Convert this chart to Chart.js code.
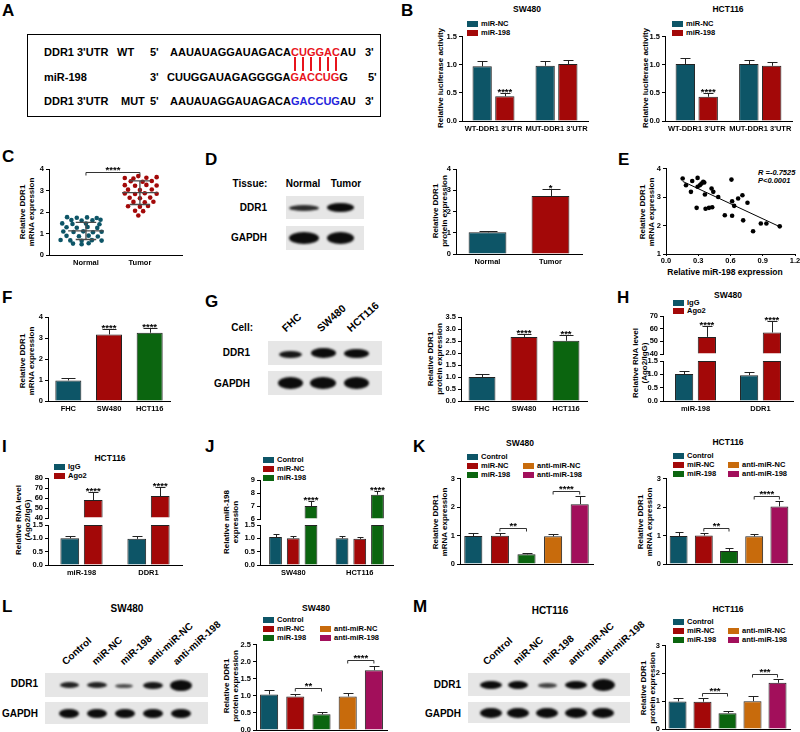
<!DOCTYPE html>
<html>
<head>
<meta charset="utf-8">
<title>DDR1 / miR-198</title>
<script src="https://cdn.jsdelivr.net/npm/chart.js@4.4.1/dist/chart.umd.min.js"></script>
<style>
html, body { margin: 0; padding: 0; background: #fff; }
#fig { position: relative; width: 800px; height: 732px; overflow: hidden; font-family: "Liberation Sans", Arial, sans-serif; font-weight: bold; color: #000; }
#fig canvas { position: absolute; }
#fig div { position: absolute; white-space: nowrap; line-height: 1; }
#fig .c { transform: translate(-50%, -50%); text-align: center; }
#fig .l { transform: translate(0, -50%); }
#fig .r { transform: translate(-100%, -50%); }
#fig .v { transform: translate(-50%, -50%) rotate(-90deg); text-align: center; line-height: 1.1; }
#fig .blot { background: #e6e6e6; overflow: hidden; }
#fig .band { border-radius: 50%; filter: blur(1.3px); }
#fig .lane { transform-origin: 0 100%; transform: rotate(-42deg); }
</style>
</head>
<body>
<div id="fig"></div>
<script>
'use strict';

// ---------- data ----------
var luciCats = ["WT-DDR1 3'UTR", "MUT-DDR1 3'UTR"];
var luciSwNc = [0.97, 0.98];
var luciSwNcErr = [0.09, 0.08];
var luciSw198 = [0.44, 1.01];
var luciSw198Err = [0.06, 0.08];
var luciHctNc = [1.01, 1.01];
var luciHctNcErr = [0.10, 0.07];
var luciHct198 = [0.43, 0.98];
var luciHct198Err = [0.06, 0.06];
var luciStars = ['****', ''];

var tissueCats = ['Normal', 'Tumor'];
var normalMrna = [1.76, 1.73, 1.75, 1.72, 1.63, 1.60, 1.61, 1.64, 1.47, 1.44, 1.46, 1.43,
  1.29, 1.27, 1.30, 1.26, 1.09, 1.07, 1.10, 1.06, 1.08, 0.89, 0.87, 0.90, 0.86,
  0.70, 0.68, 0.66, 0.69, 0.67, 0.53, 0.50, 0.55];
var normalSpread = [-0.35, -0.17, 0.02, 0.20, -0.27, -0.08, 0.12, 0.27, -0.44, -0.25, 0.00, 0.25,
  -0.36, -0.17, 0.03, 0.21, -0.42, -0.23, -0.05, 0.13, 0.29, -0.36, -0.13, 0.05, 0.22,
  -0.47, -0.29, -0.08, 0.11, 0.29, -0.24, -0.08, 0.05];
var tumorMrna = [3.67, 3.58, 3.56, 3.59, 3.62, 3.43, 3.41, 3.44, 3.25, 3.22, 3.26, 3.23,
  3.04, 3.02, 3.05, 2.86, 2.84, 2.87, 2.85, 2.66, 2.64, 2.67, 2.47, 2.45, 2.48,
  2.27, 2.25, 2.28, 2.06, 2.04, 1.84];
var tumorSpread = [-0.03, -0.28, -0.12, 0.12, 0.31, -0.17, 0.05, 0.22, -0.28, -0.09, 0.12, 0.31,
  -0.22, 0.00, 0.22, -0.28, -0.09, 0.09, 0.31, -0.19, 0.00, 0.19, -0.12, 0.09, 0.25,
  -0.22, 0.00, 0.15, -0.09, 0.06, -0.03];
var tissueMean = [1.12, 2.90];
var tissueSd = [0.40, 0.55];
var tissueSig = [1, 2, 3.86, '****'];

var tissueProt = [1.02, 2.73];
var tissueProtErr = [0.07, 0.32];
var tissueProtStars = ['', '*'];

var corrMiR = [0.155, 0.186, 0.232, 0.244, 0.285, 0.294, 0.294, 0.315, 0.33, 0.346, 0.356, 0.362,
  0.368, 0.40, 0.424, 0.43, 0.44, 0.486, 0.547, 0.609, 0.615, 0.615, 0.634, 0.671,
  0.711, 0.718, 0.758, 0.81, 0.882, 0.934, 1.058];
var corrDDR1 = [3.65, 3.41, 3.18, 3.56, 2.62, 3.67, 3.36, 3.41, 3.47, 3.53, 3.51, 3.09,
  2.59, 2.62, 3.30, 2.64, 3.18, 3.00, 2.36, 3.61, 2.85, 2.34, 2.69, 2.95,
  3.06, 2.18, 2.80, 1.80, 2.07, 2.07, 1.97];
var corrSlope = -1.76;
var corrIntercept = 3.82;

var cellCats = ['FHC', 'SW480', 'HCT116'];
var cellMrna = [0.98, 3.17, 3.25];
var cellMrnaErr = [0.10, 0.24, 0.25];
var cellMrnaStars = ['', '****', '****'];
var cellProt = [1.00, 2.67, 2.51];
var cellProtErr = [0.14, 0.13, 0.24];
var cellProtStars = ['', '****', '***'];

var ripCats = ['miR-198', 'DDR1'];
var ripSwIgg = [1.01, 0.97];
var ripSwIggErr = [0.10, 0.11];
var ripSwAgo = [53.5, 57.0];
var ripSwAgoErr = [8.3, 9.3];
var ripHctIgg = [1.00, 0.98];
var ripHctIggErr = [0.07, 0.09];
var ripHctAgo = [58.0, 62.0];
var ripHctAgoErr = [8.0, 9.5];
var ripStars = ['****', '****'];

var mimicCats = ['SW480', 'HCT116'];
var mimicCtrl = [1.05, 1.00];
var mimicCtrlErr = [0.11, 0.09];
var mimicNc = [1.00, 0.98];
var mimicNcErr = [0.07, 0.07];
var mimic198 = [7.00, 7.87];
var mimic198Err = [0.38, 0.30];
var mimicStars = ['****', '****'];

var groupNames = ['Control', 'miR-NC', 'miR-198', 'anti-miR-NC', 'anti-miR-198'];
var kSwMrna = [0.98, 0.99, 0.34, 0.97, 2.10];
var kSwMrnaErr = [0.10, 0.10, 0.05, 0.10, 0.28];
var kSwSig = [[1, 2, 1.25, '**'], [3, 4, 2.55, '****']];
var kHctMrna = [0.98, 1.00, 0.46, 0.97, 2.02];
var kHctMrnaErr = [0.13, 0.10, 0.10, 0.10, 0.18];
var kHctSig = [[1, 2, 1.26, '**'], [3, 4, 2.38, '****']];
var lSwProt = [1.04, 0.98, 0.46, 0.98, 1.75];
var lSwProtErr = [0.14, 0.08, 0.06, 0.11, 0.12];
var lSwSig = [[1, 2, 1.24, '**'], [3, 4, 2.04, '****']];
var mHctProt = [0.99, 0.98, 0.57, 1.00, 1.66];
var mHctProtErr = [0.14, 0.12, 0.08, 0.17, 0.14];
var mHctSig = [[1, 2, 1.28, '***'], [3, 4, 1.97, '***']];

// ---------- styles ----------
var TEAL = '#0d5567';
var RED = '#a30808';
var GREEN = '#0b650f';
var ORANGE = '#c86b0c';
var MAGENTA = '#a20f5b';
var INK = '#222';
var groupColors = [TEAL, RED, GREEN, ORANGE, MAGENTA];
var YW = 24;
var PR = 4;
var PB = 6;

var fig = document.getElementById('fig');

Chart.defaults.font.family = '"Liberation Sans", Arial, sans-serif';
Chart.defaults.font.weight = 'bold';
Chart.defaults.font.size = 7.5;
Chart.defaults.color = '#000';

// error bars, stars, brackets and mean/SD lines, placed through the chart scales
var marks = {
  id: 'marks',
  afterDatasetsDraw: function (chart) {
    var ctx = chart.ctx;
    var xs = chart.scales.x;
    var ys0 = chart.scales.y;
    ctx.save();
    ctx.font = 'bold 9.5px "Liberation Sans", Arial, sans-serif';
    ctx.textAlign = 'center';
    ctx.textBaseline = 'alphabetic';
    ctx.fillStyle = '#000';
    ctx.lineWidth = 1;
    chart.data.datasets.forEach(function (ds, i) {
      if (!ds.errors) return;
      var meta = chart.getDatasetMeta(i);
      var ys = chart.scales[meta.yAxisID];
      meta.data.forEach(function (bar, j) {
        var x = Math.round(bar.x) + 0.5;
        var top = Math.round(ys.getPixelForValue(ds.data[j] + ds.errors[j])) + 0.5;
        var half = Math.round(bar.width / 4);
        ctx.strokeStyle = INK;
        ctx.beginPath();
        ctx.moveTo(x, bar.y);
        ctx.lineTo(x, top);
        ctx.moveTo(x - half, top);
        ctx.lineTo(x + half, top);
        ctx.stroke();
        if (ds.stars && ds.stars[j]) {
          ctx.fillText(ds.stars[j], bar.x, top + 1);
        }
      });
    });
    (chart.data.brackets || []).forEach(function (b) {
      var x1 = xs.getPixelForValue(b[0]);
      var x2 = xs.getPixelForValue(b[1]);
      var y = Math.round(ys0.getPixelForValue(b[2])) + 0.5;
      ctx.strokeStyle = '#333';
      ctx.beginPath();
      ctx.moveTo(x1, y + 3);
      ctx.lineTo(x1, y);
      ctx.lineTo(x2, y);
      ctx.lineTo(x2, y + 3);
      ctx.stroke();
      ctx.fillText(b[3], (x1 + x2) / 2, y);
    });
    var sm = chart.data.summary;
    if (sm) {
      ctx.strokeStyle = '#4a4a4a';
      ctx.lineWidth = 1.3;
      sm.means.forEach(function (m, k) {
        var cx = k + 1;
        var sd = sm.sds[k];
        ctx.beginPath();
        [[m, 0.33], [m + sd, 0.19], [m - sd, 0.19]].forEach(function (h) {
          var y = ys0.getPixelForValue(h[0]);
          ctx.moveTo(xs.getPixelForValue(cx - h[1]), y);
          ctx.lineTo(xs.getPixelForValue(cx + h[1]), y);
        });
        ctx.moveTo(xs.getPixelForValue(cx), ys0.getPixelForValue(m + sd));
        ctx.lineTo(xs.getPixelForValue(cx), ys0.getPixelForValue(m - sd));
        ctx.stroke();
      });
    }
    ctx.restore();
  }
};
Chart.register(marks);

// ---------- helpers ----------
function put(cls, x, y, html, size, css) {
  var d = document.createElement('div');
  d.className = cls;
  d.style.left = x + 'px';
  d.style.top = y + 'px';
  if (size) d.style.fontSize = size + 'px';
  d.innerHTML = html;
  if (css) Object.assign(d.style, css);
  fig.appendChild(d);
  return d;
}

function key(x, y, color, name) {
  put('', x, y - 3, '', 0, { width: '11px', height: '6px', background: color });
  put('l', x + 14, y, name, 7.5);
}

function groupKey(x1, x2, rows) {
  key(x1, rows[0], groupColors[0], groupNames[0]);
  key(x1, rows[1], groupColors[1], groupNames[1]);
  key(x1, rows[2], groupColors[2], groupNames[2]);
  key(x2, rows[1], groupColors[3], groupNames[3]);
  key(x2, rows[2], groupColors[4], groupNames[4]);
}

function blot(x, y, w, h, bands) {
  var b = put('blot', x, y, '', 0, { width: w + 'px', height: h + 'px' });
  bands.forEach(function (bd) {
    var e = document.createElement('div');
    e.className = 'band';
    e.style.left = (bd[0] - x - bd[2] / 2) + 'px';
    e.style.top = (bd[1] - y - bd[3] / 2) + 'px';
    e.style.width = bd[2] + 'px';
    e.style.height = bd[3] + 'px';
    e.style.background = 'rgba(12,12,12,' + bd[4] + ')';
    b.appendChild(e);
  });
}

function lane(x, y, s, size) {
  put('lane', x, y - size, s, size);
}

function makeCanvas(ax, top, bot, right, xh, pt, pr) {
  pr = pr || PR;
  var c = document.createElement('canvas');
  var left = ax - YW;
  var t = top - pt;
  c.width = right - left + pr;
  c.height = bot - t + xh + PB;
  c.style.left = left + 'px';
  c.style.top = t + 'px';
  fig.appendChild(c);
  return c.getContext('2d');
}

function yAxis(min, max, step, dec, extra) {
  var s = {
    type: 'linear', position: 'left', min: min, max: max, stacked: false,
    ticks: { stepSize: step, padding: 2, autoSkip: false, callback: function (v) { return v.toFixed(dec); } },
    grid: { drawOnChartArea: false, drawTicks: true, tickLength: 3, color: '#000' },
    border: { color: '#000', width: 1 },
    afterFit: function (sc) { sc.width = YW; }
  };
  return Object.assign(s, extra || {});
}

function xAxis(xh, show) {
  return {
    type: 'category', offset: true,
    grid: { display: false, drawTicks: false, tickLength: 0 },
    border: { color: '#000', width: 1 },
    ticks: { display: show, padding: 3, autoSkip: false, maxRotation: 0 },
    afterFit: function (sc) { sc.height = xh; }
  };
}

function brokenScales(xh, low, high, weights) {
  return {
    x: xAxis(xh, true),
    y: yAxis(low[0], low[1], low[2], low[3], { stack: 'brk', stackWeight: weights[2] }),
    yGap: {
      type: 'linear', position: 'left', stack: 'brk', stackWeight: weights[1], min: 0, max: 1,
      ticks: { display: false }, grid: { display: false }, border: { display: false },
      afterFit: function (sc) { sc.width = YW; }
    },
    yTop: yAxis(high[0], high[1], high[2], high[3], { stack: 'brk', stackWeight: weights[0] })
  };
}

function options(pt, scales, pr) {
  return {
    responsive: false, animation: false, events: [],
    layout: { padding: { top: pt, right: pr || PR, bottom: PB, left: 0 } },
    plugins: { legend: { display: false }, tooltip: { enabled: false } },
    scales: scales
  };
}

function bars(label, data, color, errs, stars, extra) {
  return Object.assign({
    label: label, data: data, backgroundColor: color, borderColor: INK, borderWidth: 1,
    errors: errs, stars: stars
  }, extra || {});
}

// ---------- panel letters ----------
[['A', 2, 10], ['B', 401, 10], ['C', 2, 156], ['D', 205, 159], ['E', 618, 159],
  ['F', 2, 297], ['G', 205, 301], ['H', 617, 297], ['I', 2, 446], ['J', 205, 446],
  ['K', 413, 446], ['L', 2, 606], ['M', 413, 606]].forEach(function (p) {
  put('l', p[1], p[2], p[0], 17);
});

// ---------- A: binding site ----------
put('', 27, 34, '', 0, { width: '352px', height: '81px', border: '1.5px solid #000' });
var SEQ_RED = '#e8141c';
var SEQ_BLUE = '#2424dc';
put('l', 44, 52, "DDR1 3'UTR", 11);
put('l', 117, 52, 'WT', 11);
put('l', 150, 52, "5'", 11);
var row1 = put('l', 170, 52, 'AAUAUAGGAUAGACA' + 'CUGGAC'.split('').map(function (ch) {
  return '<span style="color:' + SEQ_RED + '">' + ch + '</span>';
}).join('') + 'AU', 11);
put('l', 365, 52, "3'", 11);
put('l', 44, 77, 'miR-198', 11);
put('l', 150, 77, "3'", 11);
put('l', 167, 77, 'CUUGGAUAGAGGGGA<span style="color:' + SEQ_RED + '">GACCUG</span>G', 11);
put('l', 368, 77, "5'", 11);
put('l', 44, 101, "DDR1 3'UTR", 11);
put('l', 121, 101, 'MUT', 11);
put('l', 150, 101, "5'", 11);
put('l', 170, 101, 'AAUAUAGGAUAGACA<span style="color:' + SEQ_BLUE + '">GACCUG</span>AU', 11);
put('l', 365, 101, "3'", 11);
var figBox = fig.getBoundingClientRect();
Array.prototype.forEach.call(row1.querySelectorAll('span'), function (sp) {
  var r = sp.getBoundingClientRect();
  put('', Math.round(r.left + r.width / 2 - figBox.left - 1), 57, '', 0,
    { width: '2px', height: '14px', background: SEQ_RED });
});

// ---------- B: luciferase ----------
var luciGroup = { categoryPercentage: 0.72, barPercentage: 0.85 };
put('c', 527, 9, 'SW480', 8.5);
key(467, 23.5, TEAL, 'miR-NC');
key(467, 32.5, RED, 'miR-198');
put('v', 441, 78, 'Relative luciferase activity', 8);
new Chart(makeCanvas(462, 36, 121, 588, 12, 6), {
  type: 'bar',
  data: { labels: luciCats, datasets: [
    bars('miR-NC', luciSwNc, TEAL, luciSwNcErr, null, luciGroup),
    bars('miR-198', luciSw198, RED, luciSw198Err, luciStars, luciGroup)
  ] },
  options: options(6, { x: xAxis(12, true), y: yAxis(0, 1.5, 0.5, 1) })
});

put('c', 728, 9, 'HCT116', 8.5);
key(672, 23.5, TEAL, 'miR-NC');
key(672, 32.5, RED, 'miR-198');
put('v', 646, 78, 'Relative luciferase activity', 8);
new Chart(makeCanvas(665, 36, 121, 792, 12, 6), {
  type: 'bar',
  data: { labels: luciCats, datasets: [
    bars('miR-NC', luciHctNc, TEAL, luciHctNcErr, null, luciGroup),
    bars('miR-198', luciHct198, RED, luciHct198Err, luciStars, luciGroup)
  ] },
  options: options(6, { x: xAxis(12, true), y: yAxis(0, 1.5, 0.5, 1) })
});

// ---------- C: tissue mRNA scatter ----------
put('v', 28, 212, 'Relative DDR1<br>mRNA expression', 8);
new Chart(makeCanvas(49, 169, 255, 182, 12, 16), {
  type: 'scatter',
  data: {
    datasets: [
      { data: normalMrna.map(function (v, k) { return { x: 1 + normalSpread[k], y: v }; }),
        backgroundColor: TEAL, borderWidth: 0, pointRadius: 2.3 },
      { data: tumorMrna.map(function (v, k) { return { x: 2 + tumorSpread[k], y: v }; }),
        backgroundColor: RED, borderWidth: 0, pointRadius: 2.3 }
    ],
    brackets: [tissueSig],
    summary: { means: tissueMean, sds: tissueSd }
  },
  options: options(16, {
    x: {
      type: 'linear', min: 0.315, max: 2.78,
      grid: { display: false, drawTicks: false, tickLength: 0 }, border: { color: '#000', width: 1 },
      ticks: { padding: 3, callback: function (v) { return tissueCats[v - 1]; } },
      afterBuildTicks: function (sc) { sc.ticks = tissueCats.map(function (n, k) { return { value: k + 1 }; }); },
      afterFit: function (sc) { sc.height = 12; }
    },
    y: yAxis(0, 4, 1, 0)
  })
});

// ---------- D: tissue western blot ----------
put('c', 250, 184, 'Tissue:', 10);
put('c', 303, 184, 'Normal', 10);
put('c', 346, 184, 'Tumor', 10);
put('r', 267, 208, 'DDR1', 10);
put('r', 267, 238, 'GAPDH', 10);
blot(286, 196, 78, 23, [[304, 208, 30, 6, 0.85], [340, 207, 27, 9, 1]]);
blot(286, 226, 78, 24, [[304, 238, 30, 12, 1], [340, 238, 27, 12, 1]]);
put('v', 441, 211, 'Relative DDR1<br>protein expression', 8);
new Chart(makeCanvas(456, 169, 254, 582, 12, 10), {
  type: 'bar',
  data: { labels: tissueCats, datasets: [
    bars('DDR1', tissueProt, [TEAL, RED], tissueProtErr, tissueProtStars, { categoryPercentage: 0.6, barPercentage: 1 })
  ] },
  options: options(10, { x: xAxis(12, true), y: yAxis(0, 4, 1, 0) })
});

// ---------- E: correlation ----------
put('v', 648, 212, 'Relative DDR1<br>mRNA expression', 8);
put('c', 725, 272, 'Relative miR-198 expression', 8.5);
put('l', 758, 173, 'R =-0.7525', 7.5, { fontStyle: 'italic' });
put('l', 758, 181, 'P&lt;0.0001', 7.5, { fontStyle: 'italic' });
var fitEnds = [Math.min.apply(null, corrMiR), Math.max.apply(null, corrMiR)];
new Chart(makeCanvas(666, 168, 254, 795, 10, 6, 8), {
  type: 'scatter',
  data: { datasets: [
    { data: corrMiR.map(function (v, k) { return { x: v, y: corrDDR1[k] }; }),
      backgroundColor: '#000', borderWidth: 0, pointRadius: 2.3 },
    { type: 'line', data: fitEnds.map(function (v) { return { x: v, y: corrSlope * v + corrIntercept }; }),
      borderColor: '#000', borderWidth: 1, pointRadius: 0, fill: false }
  ] },
  options: options(6, {
    x: {
      type: 'linear', min: 0, max: 1.2,
      ticks: { stepSize: 0.3, padding: 0, callback: function (v) { return v.toFixed(1); } },
      grid: { drawOnChartArea: false, drawTicks: true, tickLength: 2, color: '#000' },
      border: { color: '#000', width: 1 },
      afterFit: function (sc) { sc.height = 10; }
    },
    y: yAxis(1, 4, 1, 0)
  }, 8)
});

// ---------- F: cell line mRNA ----------
put('v', 28, 361, 'Relative DDR1<br>mRNA expression', 8);
new Chart(makeCanvas(48, 317, 401, 170, 12, 10), {
  type: 'bar',
  data: { labels: cellCats, datasets: [
    bars('DDR1', cellMrna, [TEAL, RED, GREEN], cellMrnaErr, cellMrnaStars, { categoryPercentage: 0.64, barPercentage: 1 })
  ] },
  options: options(10, { x: xAxis(12, true), y: yAxis(0, 4, 1, 0) })
});

// ---------- G: cell line western blot ----------
put('r', 253, 328, 'Cell:', 10);
lane(287, 333, 'FHC', 10.5);
lane(322, 333, 'SW480', 10.5);
lane(352, 333, 'HCT116', 10.5);
put('r', 250, 353, 'DDR1', 10);
put('r', 250, 384, 'GAPDH', 10);
blot(268, 341, 114, 24, [[290, 354, 23, 7, 0.95], [323, 353, 25, 10, 1], [356, 353, 25, 9, 1]]);
blot(268, 371, 114, 24, [[290, 383, 25, 12, 1], [323, 383, 26, 12, 1], [356, 383, 25, 12, 1]]);
put('v', 436, 359, 'Relative DDR1<br>protein expression', 8);
new Chart(makeCanvas(461, 317, 401, 587, 12, 10), {
  type: 'bar',
  data: { labels: cellCats, datasets: [
    bars('DDR1', cellProt, [TEAL, RED, GREEN], cellProtErr, cellProtStars, { categoryPercentage: 0.64, barPercentage: 1 })
  ] },
  options: options(10, { x: xAxis(12, true), y: yAxis(0, 3.5, 0.5, 1) })
});

// ---------- H / I: RIP with broken axis ----------
var ripLow = [0, 1.5, 0.5, 1];
var ripGroup = { categoryPercentage: 0.7, barPercentage: 0.8 };

function ripChart(ctx, igg, iggErr, ago, agoErr, high, weights, pt) {
  return new Chart(ctx, {
    type: 'bar',
    data: { labels: ripCats, datasets: [
      bars('IgG', igg, TEAL, iggErr, null, Object.assign({ yAxisID: 'y', stack: 'igg' }, ripGroup)),
      bars('Ago2', ago.map(function (v) { return Math.min(v, ripLow[1]); }), RED, null, null,
        Object.assign({ yAxisID: 'y', stack: 'ago' }, ripGroup)),
      bars('Ago2', ago, RED, agoErr, ripStars,
        Object.assign({ yAxisID: 'yTop', stack: 'ago', base: high[0] }, ripGroup))
    ] },
    options: options(pt, brokenScales(12, ripLow, high, weights))
  });
}

put('c', 728, 295, 'SW480', 8.5);
key(673, 302.5, TEAL, 'IgG');
key(673, 310.5, RED, 'Ago2');
put('v', 641, 363, 'Relative RNA level<br>(Ago2/IgG)', 8);
ripChart(makeCanvas(663, 316, 401, 793, 12, 8), ripSwIgg, ripSwIggErr, ripSwAgo, ripSwAgoErr,
  [40, 70, 10, 0], [38, 7, 40], 8);

put('c', 110, 458, 'HCT116', 8.5);
key(54, 466.5, TEAL, 'IgG');
key(54, 475.5, RED, 'Ago2');
put('v', 24, 520, 'Relative RNA level<br>(Ago2/IgG)', 8);
ripChart(makeCanvas(48, 478, 565, 182, 12, 10), ripHctIgg, ripHctIggErr, ripHctAgo, ripHctAgoErr,
  [40, 80, 10, 0], [40, 7, 40], 10);

// ---------- J: miR-198 overexpression ----------
var mimicGroup = { categoryPercentage: 0.8, barPercentage: 0.72 };
key(263, 459.5, TEAL, 'Control');
key(263, 468.5, RED, 'miR-NC');
key(263, 477.5, GREEN, 'miR-198');
put('v', 232, 522, 'Relative miR-198<br>expression', 8);
new Chart(makeCanvas(260, 480, 565, 393, 12, 8), {
  type: 'bar',
  data: { labels: mimicCats, datasets: [
    bars('Control', mimicCtrl, TEAL, mimicCtrlErr, null, Object.assign({ yAxisID: 'y', stack: 'a' }, mimicGroup)),
    bars('miR-NC', mimicNc, RED, mimicNcErr, null, Object.assign({ yAxisID: 'y', stack: 'b' }, mimicGroup)),
    bars('miR-198', mimic198.map(function (v) { return Math.min(v, 1.5); }), GREEN, null, null,
      Object.assign({ yAxisID: 'y', stack: 'c' }, mimicGroup)),
    bars('miR-198', mimic198, GREEN, mimic198Err, mimicStars,
      Object.assign({ yAxisID: 'yTop', stack: 'c', base: 6 }, mimicGroup))
  ] },
  options: options(8, brokenScales(12, [0, 1.5, 0.5, 1], [6, 9, 1, 0], [39, 6, 40]))
});

// ---------- K: DDR1 mRNA after miR-198 modulation ----------
function groupChart(ctx, vals, errs, sig, ymax, step, dec, pct) {
  return new Chart(ctx, {
    type: 'bar',
    data: { labels: groupNames, datasets: [
      bars('DDR1', vals, groupColors, errs, null, { categoryPercentage: pct, barPercentage: 1 })
    ], brackets: sig },
    options: options(6, { x: xAxis(2, false), y: yAxis(0, ymax, step, dec) })
  });
}

put('c', 520, 443, 'SW480', 8.5);
groupKey(467, 523, [457, 466, 475]);
put('v', 441, 522, 'Relative DDR1<br>mRNA expression', 8);
groupChart(makeCanvas(460, 478, 564, 593, 2, 6), kSwMrna, kSwMrnaErr, kSwSig, 3, 1, 0, 0.68);

put('c', 728, 442, 'HCT116', 8.5);
groupKey(673, 728, [456, 465, 474]);
put('v', 646, 522, 'Relative DDR1<br>mRNA expression', 8);
groupChart(makeCanvas(666, 478, 564, 792, 2, 6), kHctMrna, kHctMrnaErr, kHctSig, 3, 1, 0, 0.71);

// ---------- L: SW480 blot + protein ----------
put('c', 127, 609, 'SW480', 10);
[67, 97, 125, 152, 178].forEach(function (x, k) { lane(x, 667, groupNames[k], 10); });
put('r', 38, 684, 'DDR1', 10);
put('r', 38, 714, 'GAPDH', 10);
blot(45, 673, 163, 24, [[69, 685, 19, 6, 0.9], [97, 685, 20, 6, 0.9], [124, 686, 18, 4, 0.7],
  [153, 685, 20, 7, 0.95], [181, 685, 22, 11, 1]]);
blot(45, 702, 163, 22, [[69, 713, 20, 9, 1], [97, 713, 20, 9, 1], [125, 713, 20, 9, 1],
  [153, 713, 20, 9, 1], [181, 713, 20, 9, 1]]);
put('c', 316, 608, 'SW480', 8.5);
groupKey(263, 320, [620, 629, 638]);
put('v', 232, 686, 'Relative DDR1<br>protein expression', 8);
groupChart(makeCanvas(256, 644, 730, 387, 2, 6), lSwProt, lSwProtErr, lSwSig, 2.5, 0.5, 1, 0.69);

// ---------- M: HCT116 blot + protein ----------
put('c', 550, 611, 'HCT116', 10);
[488, 518, 547, 573, 602].forEach(function (x, k) { lane(x, 667, groupNames[k], 10); });
put('r', 461, 685, 'DDR1', 10);
put('r', 461, 714, 'GAPDH', 10);
blot(468, 673, 162, 23, [[491, 685, 22, 8, 1], [518, 685, 20, 8, 1], [547, 685, 19, 5, 0.75],
  [576, 685, 22, 8, 1], [603, 685, 23, 12, 1]]);
blot(468, 702, 162, 21, [[491, 713, 22, 10, 1], [518, 713, 22, 10, 1], [547, 713, 22, 10, 1],
  [576, 713, 22, 10, 1], [603, 713, 22, 10, 1]]);
put('c', 728, 609, 'HCT116', 8.5);
groupKey(673, 728, [622, 631, 640]);
put('v', 649, 688, 'Relative DDR1<br>protein expression', 8);
groupChart(makeCanvas(665, 645, 729, 790, 2, 6), mHctProt, mHctProtErr, mHctSig, 3, 1, 0, 0.72);
</script>
</body>
</html>
